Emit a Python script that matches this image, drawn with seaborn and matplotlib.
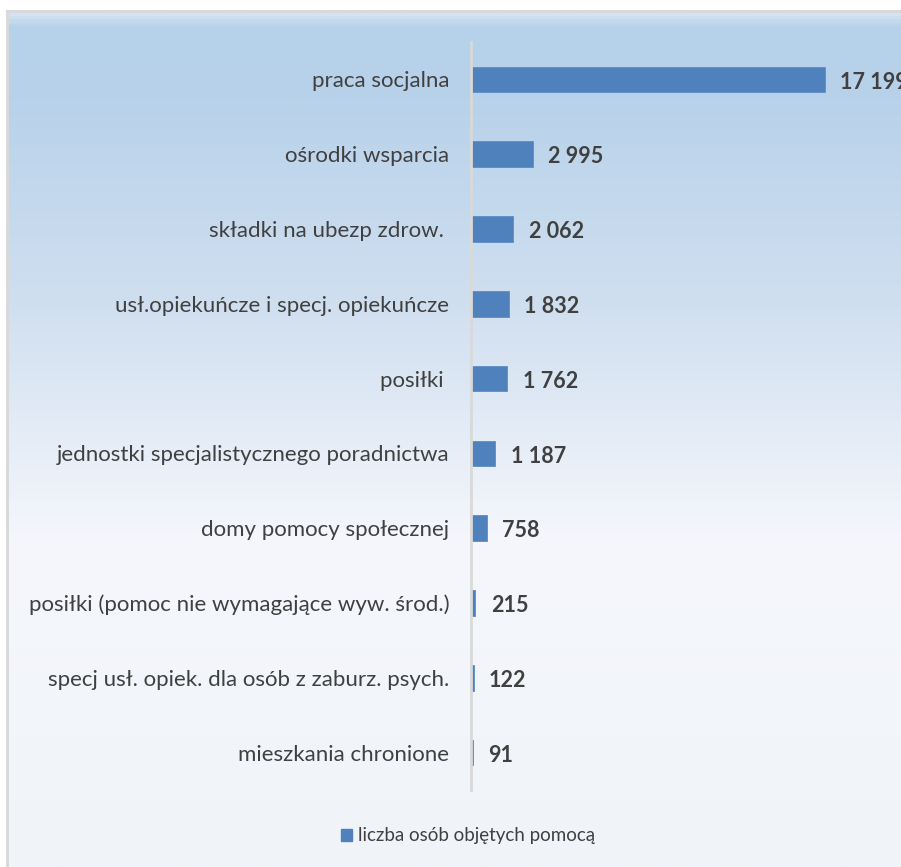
import numpy as np
import pandas as pd
import matplotlib
matplotlib.use("Agg")
import matplotlib.pyplot as plt
import seaborn as sns
from matplotlib.patches import Rectangle, Patch
from matplotlib.colors import LinearSegmentedColormap

categories = [
    "praca socjalna",
    "ośrodki wsparcia",
    "składki na ubezp zdrow. ",
    "usł.opiekuńcze i specj. opiekuńcze",
    "posiłki ",
    "jednostki specjalistycznego poradnictwa",
    "domy pomocy społecznej",
    "posiłki (pomoc nie wymagające wyw. środ.)",
    "specj usł. opiek. dla osób z zaburz. psych.",
    "mieszkania chronione",
]
values = [17199, 2995, 2062, 1832, 1762, 1187, 758, 215, 122, 91]
value_labels = ["17 199", "2 995", "2 062", "1 832", "1 762", "1 187", "758", "215", "122", "91"]
series_name = "liczba osób objętych pomocą"

df = pd.DataFrame({"kategoria": categories, "wartosc": values})

sns.set_theme(style="white")
plt.rcParams["font.family"] = ["Lato", "DejaVu Sans"]

W, H = 901, 867
fig = plt.figure(figsize=(W / 100, H / 100), dpi=100)
fig.patch.set_facecolor("white")

# gradient background of chart area
bg = fig.add_axes([8 / W, 0, 1 - 8 / W, (H - 12) / H], zorder=0)
cmap = LinearSegmentedColormap.from_list(
    "g", [(0, "#D3E3F3"), (0.015, "#B6D1EA"), (0.1, "#B8D2EA"), (0.34, "#D0DFF0"),
          (0.62, "#F5F7FC"), (1, "#F0F4F9")]
)
grad = np.linspace(0, 1, 600).reshape(-1, 1)
bg.imshow(grad, aspect="auto", cmap=cmap, extent=[0, 1, 0, 1], origin="upper")
bg.set_axis_off()
fig.add_artist(Rectangle((7 / W, -0.01), 1.05, (H - 11) / H + 0.01, transform=fig.transFigure,
                         fill=False, edgecolor="#D9D9D9", linewidth=2.2, zorder=1))

ax = fig.add_axes([471 / W, 1 - 790 / H, (W - 471) / W, (790 - 42) / H], zorder=2)
ax.patch.set_alpha(0)
sns.barplot(data=df, x="wartosc", y="kategoria", orient="h", color="#4F81BD", saturation=1,
            width=0.34, edgecolor="#5B8DC8", linewidth=0.6, ax=ax, label=series_name)
ax.set_xlim(0, 17199 * 430 / 354)
ax.set_ylim(len(categories) - 0.5, -0.5)
ax.set_xlabel("")
ax.set_ylabel("")
ax.set_xticks([])
for s in ["top", "right", "bottom"]:
    ax.spines[s].set_visible(False)
ax.spines["left"].set_color("#D9D9D9")
ax.spines["left"].set_linewidth(2)
ax.tick_params(axis="y", length=0, pad=15.5, labelsize=16, labelcolor="#404040")

for i, (v, t) in enumerate(zip(values, value_labels)):
    ax.annotate(t, (v, i), xytext=(11, -2), textcoords="offset points", va="center", ha="left",
                fontsize=15.5, fontweight="bold", color="#404040", annotation_clip=False)

if ax.get_legend():
    ax.get_legend().remove()
fig.legend(handles=[Patch(facecolor="#4F81BD", edgecolor="#4F81BD")], labels=[series_name],
           loc="center", bbox_to_anchor=(468 / W, 1 - 836 / H), frameon=False, fontsize=13.5,
           handlelength=0.6, handleheight=0.6, handletextpad=0.35, labelcolor="#404040")

fig.savefig("out.png", dpi=100)
